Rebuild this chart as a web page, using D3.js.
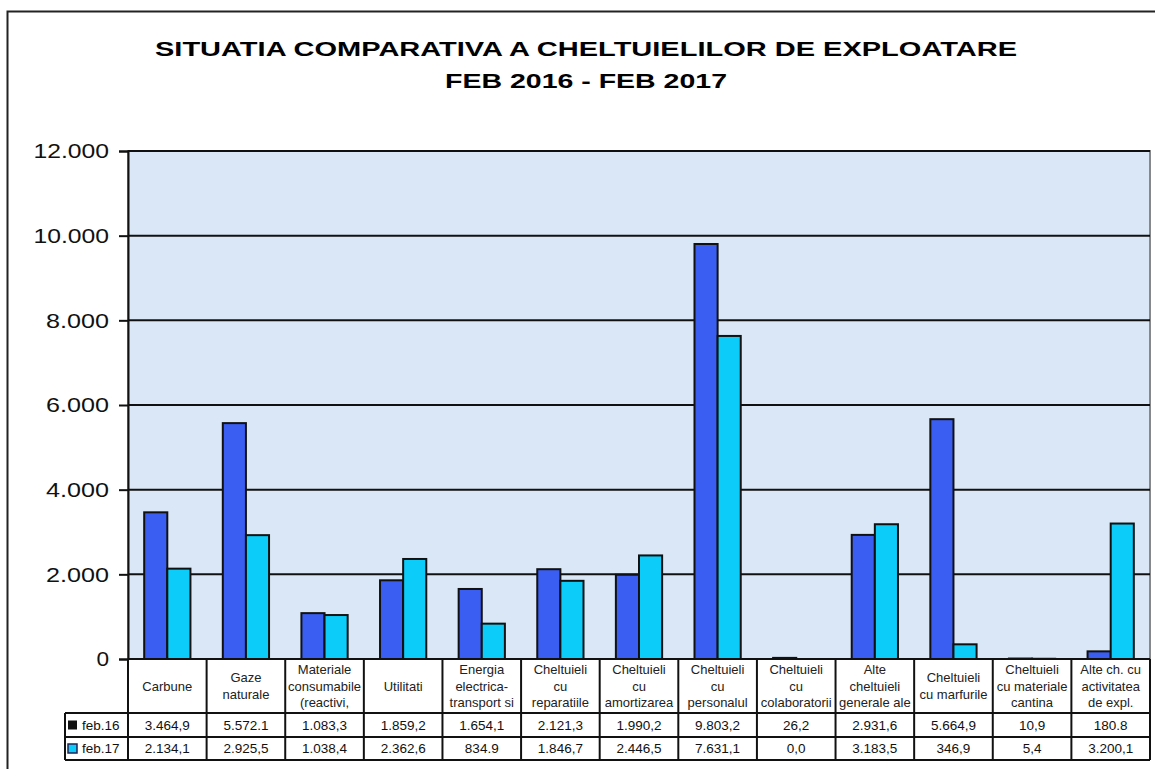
<!DOCTYPE html>
<html>
<head>
	<title>Situatia comparativa</title>
	<meta charset="UTF-8">
	<style>
		body { margin: 0; background: #fff; }
		text { font-family: Arial, "Liberation Sans", sans-serif; }
	</style>
</head>
<body>
</body>
<script src="https://d3js.org/d3.v7.min.js"></script>
<script type="text/javascript">

'use strict';

// categories, one array of lines per column of the table
var categories = [
	["Carbune"],
	["Gaze", "naturale"],
	["Materiale", "consumabile", "(reactivi,"],
	["Utilitati"],
	["Energia", "electrica-", "transport si"],
	["Cheltuieli", "cu", "reparatiile"],
	["Cheltuieli", "cu", "amortizarea"],
	["Cheltuieli", "cu", "personalul"],
	["Cheltuieli", "cu", "colaboratorii"],
	["Alte", "cheltuieli", "generale ale"],
	["Cheltuieli", "cu marfurile"],
	["Cheltuieli", "cu materiale", "cantina"],
	["Alte ch. cu", "activitatea", "de expl."]
];

var series = ["feb.16", "feb.17"];

var feb16 = [3464.9, 5572.1, 1083.3, 1859.2, 1654.1, 2121.3, 1990.2, 9803.2, 26.2, 2931.6, 5664.9, 10.9, 180.8];
var feb17 = [2134.1, 2925.5, 1038.4, 2362.6, 834.9, 1846.7, 2446.5, 7631.1, 0.0, 3183.5, 346.9, 5.4, 3200.1];

// labels as printed in the table
var feb16Labels = ["3.464,9", "5.572.1", "1.083,3", "1.859,2", "1.654,1", "2.121,3", "1.990,2", "9.803,2", "26,2", "2.931,6", "5.664,9", "10,9", "180.8"];
var feb17Labels = ["2.134,1", "2.925,5", "1.038,4", "2.362,6", "834.9", "1.846,7", "2.446,5", "7.631,1", "0,0", "3.183,5", "346,9", "5,4", "3.200,1"];

var yTicks = [0, 2000, 4000, 6000, 8000, 10000, 12000];
var yTickLabels = ["0", "2.000", "4.000", "6.000", "8.000", "10.000", "12.000"];

var colors = {"feb.16": "#3a5ef2", "feb.17": "#0ccdfa"};

var W = 1155, H = 769;
var svg = d3.select("body").append("svg")
	.attr("width", W)
	.attr("height", H);

// outer frame
svg.append("rect")
	.attr("x", 7.5).attr("y", 11.5)
	.attr("width", 1160).attr("height", 780)
	.attr("fill", "#fff")
	.attr("stroke", "#222")
	.attr("stroke-width", 2);

// title (the original is stretched horizontally)
svg.append("text")
	.attr("x", 155).attr("y", 56)
	.attr("font-weight", "bold")
	.attr("font-size", 21)
	.attr("textLength", 862)
	.attr("lengthAdjust", "spacingAndGlyphs")
	.text("SITUATIA COMPARATIVA A CHELTUIELILOR DE EXPLOATARE");
svg.append("text")
	.attr("x", 445).attr("y", 88)
	.attr("font-weight", "bold")
	.attr("font-size", 21)
	.attr("textLength", 282)
	.attr("lengthAdjust", "spacingAndGlyphs")
	.text("FEB 2016 - FEB 2017");

var pLeft = 128, pRight = 1150, pTop = 151, pBottom = 659;

var x = d3.scaleBand()
	.domain(d3.range(categories.length))
	.range([pLeft, pRight]);

var xs = d3.scaleBand()
	.domain(series)
	.range([0, x.bandwidth()])
	.paddingInner(0)
	.paddingOuter(0.7);

var y = d3.scaleLinear()
	.domain([0, 12000])
	.range([pBottom, pTop]);

// plot background
svg.append("rect")
	.attr("x", pLeft).attr("y", pTop)
	.attr("width", pRight - pLeft).attr("height", pBottom - pTop)
	.attr("fill", "#dae7f6")
	.attr("stroke", "#888")
	.attr("stroke-width", 2);

// gridlines
svg.append("g")
	.selectAll("line")
	.data(yTicks.slice(1))
	.enter().append("line")
		.attr("x1", pLeft).attr("x2", pRight)
		.attr("y1", function(d){ return y(d); })
		.attr("y2", function(d){ return y(d); })
		.attr("stroke", "#111")
		.attr("stroke-width", 2);

// bars
var data = [];
categories.forEach(function(c, i){
	data.push({i: i, s: "feb.16", v: feb16[i]});
	data.push({i: i, s: "feb.17", v: feb17[i]});
});

svg.append("g")
	.selectAll("rect")
	.data(data.filter(function(d){ return d.v > 0; }))
	.enter().append("rect")
		.attr("x", function(d){ return x(d.i) + xs(d.s); })
		.attr("y", function(d){ return y(d.v); })
		.attr("width", xs.bandwidth())
		.attr("height", function(d){ return y(0) - y(d.v); })
		.attr("fill", function(d){ return colors[d.s]; })
		.attr("stroke", "#111")
		.attr("stroke-width", 2);

// y axis
var yAxis = d3.axisLeft(y)
	.tickValues(yTicks)
	.tickFormat(function(d, i){ return yTickLabels[i]; })
	.tickSize(9)
	.tickPadding(10);

var ga = svg.append("g")
	.attr("transform", "translate(" + pLeft + ",0)")
	.call(yAxis);
ga.select(".domain").attr("stroke", "#111").attr("stroke-width", 2);
ga.selectAll(".tick line").attr("stroke", "#111").attr("stroke-width", 2);
ga.selectAll(".tick text")
	.attr("font-family", "Arial, 'Liberation Sans', sans-serif")
	.attr("font-size", 21)
	.attr("fill", "#111")
	.attr("textLength", function(d, i){ return yTickLabels[i].length * 12.6; })
	.attr("lengthAdjust", "spacingAndGlyphs");

// data table
var rowY = [pBottom, 713, 737, 760];
var tableLeft = 65;
var table = svg.append("g");

table.append("rect")
	.attr("x", pLeft).attr("y", pBottom)
	.attr("width", pRight - pLeft).attr("height", rowY[1] - pBottom)
	.attr("fill", "#fff");
table.append("rect")
	.attr("x", tableLeft).attr("y", rowY[1])
	.attr("width", pRight - tableLeft).attr("height", rowY[3] - rowY[1])
	.attr("fill", "#fff");

// horizontal rules
table.selectAll("line.h")
	.data([0, 1, 2, 3])
	.enter().append("line")
		.attr("x1", function(d){ return d === 0 ? pLeft : tableLeft; })
		.attr("x2", pRight)
		.attr("y1", function(d){ return rowY[d]; })
		.attr("y2", function(d){ return rowY[d]; })
		.attr("stroke", "#111")
		.attr("stroke-width", 2);

// vertical rules
table.selectAll("line.v")
	.data(d3.range(categories.length + 1))
	.enter().append("line")
		.attr("x1", function(d){ return d < categories.length ? x(d) : pRight; })
		.attr("x2", function(d){ return d < categories.length ? x(d) : pRight; })
		.attr("y1", pBottom)
		.attr("y2", rowY[3])
		.attr("stroke", "#111")
		.attr("stroke-width", 2);
table.append("line")
	.attr("x1", tableLeft).attr("x2", tableLeft)
	.attr("y1", rowY[1]).attr("y2", rowY[3])
	.attr("stroke", "#111")
	.attr("stroke-width", 2);

// category labels
var lineH = 16.5;
table.selectAll("text.cat")
	.data(categories)
	.enter().append("text")
		.attr("class", "cat")
		.attr("text-anchor", "middle")
		.attr("font-size", 13)
		.attr("fill", "#222")
		.each(function(lines, i){
			var cy = (pBottom + rowY[1]) / 2 - (lines.length - 1) * lineH / 2 + 4.5;
			d3.select(this).selectAll("tspan")
				.data(lines)
				.enter().append("tspan")
					.attr("x", x(i) + x.bandwidth() / 2)
					.attr("y", function(d, k){ return cy + k * lineH; })
					.text(function(d){ return d; });
		});

// value rows
[feb16Labels, feb17Labels].forEach(function(labels, r){
	table.selectAll("text.v" + r)
		.data(labels)
		.enter().append("text")
			.attr("x", function(d, i){ return x(i) + x.bandwidth() / 2; })
			.attr("y", (rowY[r + 1] + rowY[r + 2]) / 2 + 4.5)
			.attr("text-anchor", "middle")
			.attr("font-size", 13.5)
			.attr("fill", "#111")
			.text(function(d){ return d; });
});

// legend keys in first column
series.forEach(function(s, r){
	var cy = (rowY[r + 1] + rowY[r + 2]) / 2;
	table.append("rect")
		.attr("x", 68).attr("y", cy - 4.5)
		.attr("width", 9).attr("height", 9)
		.attr("fill", r === 0 ? "#111" : colors[s])
		.attr("stroke", r === 0 ? "none" : "#225")
		.attr("stroke-width", 1.5);
	table.append("text")
		.attr("x", 82).attr("y", cy + 4.5)
		.attr("font-size", 13.5)
		.attr("fill", "#111")
		.text(s);
});

</script>
</html>
